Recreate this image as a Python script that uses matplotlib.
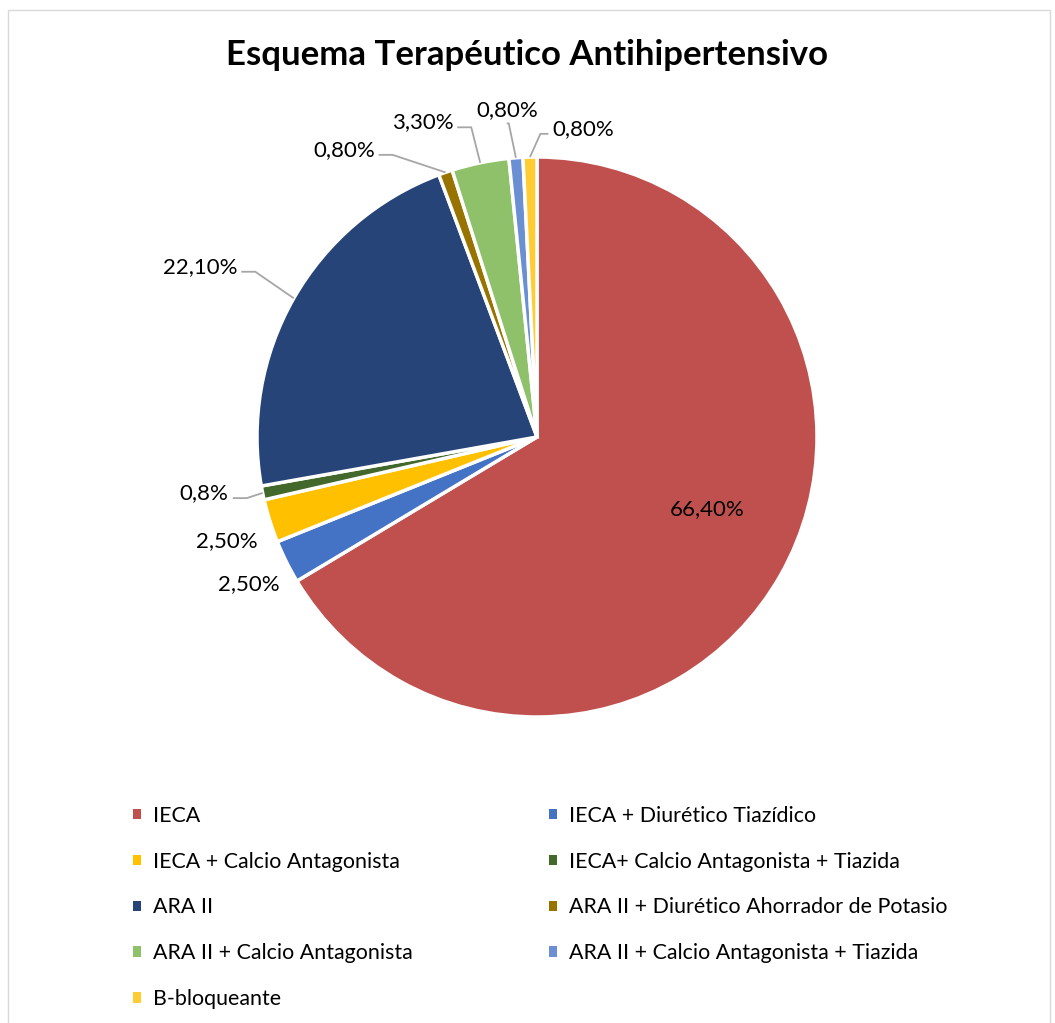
import numpy as np
import matplotlib
matplotlib.use("Agg")
import matplotlib.pyplot as plt
from matplotlib.patches import Rectangle

plt.rcParams['font.family'] = ['Lato', 'DejaVu Sans']

# datos
categorias = [
    "IECA",
    "IECA + Diurético Tiazídico",
    "IECA + Calcio Antagonista",
    "IECA+ Calcio Antagonista + Tiazida",
    "ARA II",
    "ARA II + Diurético Ahorrador de Potasio",
    "ARA II + Calcio Antagonista",
    "ARA II + Calcio Antagonista + Tiazida",
    "B-bloqueante",
]
valores = [66.4, 2.5, 2.5, 0.8, 22.1, 0.8, 3.3, 0.8, 0.8]
etiquetas = ["66,40%", "2,50%", "2,50%", "0,8%", "22,10%", "0,80%", "3,30%", "0,80%", "0,80%"]

colores = ["#C0504D", "#4472C4", "#FFC000", "#43682B", "#264478",
           "#997300", "#8FC16A", "#6A8FD2", "#FFCD33"]

# posicion de etiquetas: (desplazamiento angular, factor de radio, alineacion, linea guia)
layout = [
    (6.7, 0.661, "center", False),
    (3.4, 1.058, "right", False),
    (2.9, 1.066, "right", False),
    (-1.2, 1.119, "right", True),
    (0.1, 1.231, "right", True),
    (10.4, 1.178, "right", True),
    (3.2, 1.163, "right", True),
    (0.8, 1.171, "center", True),
    (-4.3, 1.102, "left", True),
]

W, H = 1055, 1023
fig = plt.figure(figsize=(W / 100, H / 100), dpi=100)
ax = fig.add_axes([0, 0, 1, 1])

cx, cy, R = 537, H - 437, 280
wedges, _ = ax.pie(valores, colors=colores, startangle=90, counterclock=False,
                   center=(cx, cy), radius=R,
                   wedgeprops=dict(edgecolor="white", linewidth=2.5))
ax.set_xlim(0, W)
ax.set_ylim(0, H)
ax.set_aspect("equal")
ax.axis("off")

for w, txt, (dth, rf, ha, guia) in zip(wedges, etiquetas, layout):
    mid = (w.theta1 + w.theta2) / 2
    a = np.radians(mid + dth)
    tx, ty = cx + rf * R * np.cos(a), cy + rf * R * np.sin(a)
    ax.text(tx, ty, txt, ha=ha, va="center", fontsize=16, color="#000000")
    if guia:
        am = np.radians(mid)
        p0 = (cx + R * np.cos(am), cy + R * np.sin(am))
        ly = ty - 5
        if ha == "right":
            xs = [tx + 4, tx + 18, p0[0]]
            ys = [ly, ly, p0[1]]
        elif ha == "left":
            xs = [tx - 4, tx - 12, p0[0]]
            ys = [ly, ly, p0[1]]
        else:
            xs = [tx - 1, tx + 1, p0[0]]
            ys = [ty - 13, ty - 13, p0[1]]
        ax.plot(xs, ys, color="#A6A6A6", lw=1.3, solid_capstyle="butt")

fig.text(0.5, 1 - 55 / H, "Esquema Terapéutico Antihipertensivo",
         ha="center", va="center", fontsize=25, fontweight="bold")

# leyenda en dos columnas
h1 = [wedges[i] for i in [0, 2, 4, 6, 8]]
l1 = [categorias[i] for i in [0, 2, 4, 6, 8]]
h2 = [wedges[i] for i in [1, 3, 5, 7]]
l2 = [categorias[i] for i in [1, 3, 5, 7]]
kw = dict(frameon=False, fontsize=15.4, handlelength=0.38, handleheight=0.38,
          handletextpad=0.55, labelspacing=1.21, loc="upper left", borderpad=0)
leg1 = fig.legend(h1, l1, bbox_to_anchor=(122 / W, 1 - 795 / H), **kw)
leg2 = fig.legend(h2, l2, bbox_to_anchor=(538 / W, 1 - 795 / H), **kw)
for leg in (leg1, leg2):
    for p in leg.get_patches():
        p.set_edgecolor("none")

fig.patches.append(Rectangle((8 / W, -0.01), 1042 / W, 1.01 - 10 / H,
                             transform=fig.transFigure, fill=False,
                             edgecolor="#D9D9D9", lw=1))

fig.savefig("out.png", dpi=100)
